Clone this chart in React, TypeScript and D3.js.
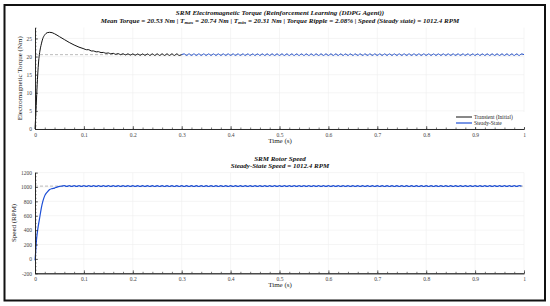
import React, { useEffect, useRef } from 'react';
import * as d3 from 'd3';

const WIDTH = 550;
const HEIGHT = 306;
const SERIF = '"Liberation Serif", "DejaVu Serif", serif';
const BLUE = '#1d4fd6';

// shared time axis
const X_TICKS = [0, 0.1, 0.2, 0.3, 0.4, 0.5, 0.6, 0.7, 0.8, 0.9, 1];
const TORQUE_TICKS = [0, 5, 10, 15, 20, 25];
const SPEED_TICKS = [-200, 0, 200, 400, 600, 800, 1000, 1200];

const TORQUE_MEAN = 20.53;
const SPEED_STEADY = 1012.4;

// torque start-up (transient, black)
const TRANSIENT_T = [0, 0.002, 0.004, 0.006, 0.008, 0.01, 0.013, 0.016, 0.02, 0.025, 0.03, 0.035, 0.04, 0.05, 0.06, 0.07, 0.08, 0.09];
const TRANSIENT_V = [0, 5, 11, 16, 19.5, 21.5, 23.5, 25, 26, 26.6, 26.7, 26.6, 26.3, 25.5, 24.7, 23.9, 23.2, 22.6];

// sampled every STEP seconds
const STEP = 0.005;
const TAIL_START = 0.1;
const TRANSIENT_TAIL = [
  22.15, 21.9, 21.9, 21.55, 21.55, 21.3, 21.35, 21.1, 21.15, 20.9,
  21.0, 20.75, 20.9, 20.62, 20.82, 20.52, 20.78, 20.45, 20.76, 20.4,
  20.75, 20.36, 20.74, 20.34, 20.74, 20.33, 20.74, 20.32, 20.74, 20.32,
  20.74, 20.31, 20.74, 20.31, 20.74, 20.31, 20.74, 20.31, 20.74, 20.31,
  20.53,
];

const STEADY_START = 0.3;
const STEADY_TORQUE = [
  20.53, 20.74, 20.31, 20.74, 20.31, 20.74, 20.31, 20.74, 20.31, 20.74,
  20.31, 20.74, 20.31, 20.74, 20.31, 20.74, 20.31, 20.74, 20.31, 20.74,
  20.31, 20.74, 20.31, 20.74, 20.31, 20.74, 20.31, 20.74, 20.31, 20.74,
  20.31, 20.74, 20.31, 20.74, 20.31, 20.74, 20.31, 20.74, 20.31, 20.74,
  20.31, 20.74, 20.31, 20.74, 20.31, 20.74, 20.31, 20.74, 20.31, 20.74,
  20.31, 20.74, 20.31, 20.74, 20.31, 20.74, 20.31, 20.74, 20.31, 20.74,
  20.31, 20.74, 20.31, 20.74, 20.31, 20.74, 20.31, 20.74, 20.31, 20.74,
  20.31, 20.74, 20.31, 20.74, 20.31, 20.74, 20.31, 20.74, 20.31, 20.74,
  20.31, 20.74, 20.31, 20.74, 20.31, 20.74, 20.31, 20.74, 20.31, 20.74,
  20.31, 20.74, 20.31, 20.74, 20.31, 20.74, 20.31, 20.74, 20.31, 20.74,
  20.31, 20.74, 20.31, 20.74, 20.31, 20.74, 20.31, 20.74, 20.31, 20.74,
  20.31, 20.74, 20.31, 20.74, 20.31, 20.74, 20.31, 20.74, 20.31, 20.74,
  20.31, 20.74, 20.31, 20.74, 20.31, 20.74, 20.31, 20.74, 20.31, 20.74,
  20.31, 20.74, 20.31, 20.74, 20.31, 20.74, 20.31, 20.74, 20.31, 20.74,
  20.53,
];

// rotor speed start-up
const SPEED_T = [0, 0.001, 0.003, 0.005, 0.007, 0.01, 0.013, 0.016, 0.02, 0.025, 0.03, 0.035, 0.04, 0.045, 0.05];
const SPEED_V = [-20, 60, 260, 380, 470, 590, 710, 800, 880, 930, 965, 978, 985, 998, 1008];

const SPEED_RIPPLE_START = 0.055;
const SPEED_RIPPLE = [
  1012, 1018, 1007, 1018, 1007, 1018, 1007, 1018, 1007, 1018,
  1007, 1018, 1007, 1018, 1007, 1018, 1007, 1018, 1007, 1018,
  1007, 1018, 1007, 1018, 1007, 1018, 1007, 1018, 1007, 1018,
  1007, 1018, 1007, 1018, 1007, 1018, 1007, 1018, 1007, 1018,
  1007, 1018, 1007, 1018, 1007, 1018, 1007, 1018, 1007, 1018,
  1007, 1018, 1007, 1018, 1007, 1018, 1007, 1018, 1007, 1018,
  1007, 1018, 1007, 1018, 1007, 1018, 1007, 1018, 1007, 1018,
  1007, 1018, 1007, 1018, 1007, 1018, 1007, 1018, 1007, 1018,
  1007, 1018, 1007, 1018, 1007, 1018, 1007, 1018, 1007, 1018,
  1007, 1018, 1007, 1018, 1007, 1018, 1007, 1018, 1007, 1018,
  1007, 1018, 1007, 1018, 1007, 1018, 1007, 1018, 1007, 1018,
  1007, 1018, 1007, 1018, 1007, 1018, 1007, 1018, 1007, 1018,
  1007, 1018, 1007, 1018, 1007, 1018, 1007, 1018, 1007, 1018,
  1007, 1018, 1007, 1018, 1007, 1018, 1007, 1018, 1007, 1018,
  1007, 1018, 1007, 1018, 1007, 1018, 1007, 1018, 1007, 1018,
  1007, 1018, 1007, 1018, 1007, 1018, 1007, 1018, 1007, 1018,
  1007, 1018, 1007, 1018, 1007, 1018, 1007, 1018, 1007, 1018,
  1007, 1018, 1007, 1018, 1007, 1018, 1007, 1018, 1007, 1018,
  1007, 1018, 1007, 1018, 1007, 1018, 1007, 1018, 1012,
];

const LEGEND = ['Transient (Initial)', 'Steady-State'];

const pairs = (ts: number[], vs: number[]) => vs.map((v, i) => [ts[i], v] as [number, number]);
const stepped = (start: number, vs: number[]) => vs.map((v, i) => [start + i * STEP, v] as [number, number]);

const x = d3.scaleLinear().domain([0, 1]).range([35, 524]);

type Series = { points: [number, number][]; color: string; width: number };

const Panel = ({ yDomain, yRange, yTicks, yMinor, yLabel, series, refValue }: any) => {
  const xAxisRef = useRef<SVGGElement>(null);
  const yAxisRef = useRef<SVGGElement>(null);

  const y = d3.scaleLinear().domain(yDomain).range(yRange);
  const bottom = yRange[0];

  useEffect(() => {
    const minorX = d3.range(0, 1.0001, 0.02);
    const gx = d3.select(xAxisRef.current);
    gx.selectAll('*').remove();
    gx.append('g').call(d3.axisBottom(x).tickValues(minorX).tickSize(-1.5).tickFormat(() => '').tickSizeOuter(0));
    gx.append('g').call(d3.axisBottom(x).tickValues(X_TICKS).tickSize(-3).tickPadding(4).tickSizeOuter(0)
      .tickFormat(d => d3.format('~g')(d as number)));

    const gy = d3.select(yAxisRef.current);
    gy.selectAll('*').remove();
    gy.append('g').call(d3.axisLeft(y).tickValues(d3.range(yDomain[0], yDomain[1] + 0.001, yMinor)).tickSize(-1.5).tickFormat(() => '').tickSizeOuter(0));
    gy.append('g').call(d3.axisLeft(y).tickValues(yTicks).tickSize(-3).tickPadding(3).tickSizeOuter(0)
      .tickFormat(d => String(d)));

    [gx, gy].forEach(g => {
      g.selectAll('text').attr('font-family', SERIF).attr('font-size', 5.5).attr('fill', '#444');
      g.selectAll('.domain').attr('stroke', '#222').attr('stroke-width', 0.8);
      g.selectAll('line').attr('stroke', '#222').attr('stroke-width', 0.6);
    });
  }, []);

  const line = d3.line<[number, number]>().x(d => x(d[0])).y(d => y(d[1])).curve(d3.curveMonotoneX);

  return (
    <g>
      {X_TICKS.slice(1).map(t => (
        <line key={'gx' + t} x1={x(t)} x2={x(t)} y1={yRange[1]} y2={bottom} stroke="#efefef" strokeWidth={0.6} />
      ))}
      {yTicks.map((t: number) => (
        <line key={'gy' + t} x1={x(0)} x2={x(1)} y1={y(t)} y2={y(t)} stroke="#efefef" strokeWidth={0.6} />
      ))}
      <line x1={x(0)} x2={x(1)} y1={y(refValue)} y2={y(refValue)} stroke="#aaa" strokeWidth={0.8} strokeDasharray="3,2" />
      {series.map((s: Series, i: number) => (
        <path key={i} d={line(s.points) || ''} fill="none" stroke={s.color} strokeWidth={s.width} />
      ))}
      <g ref={xAxisRef} transform={`translate(0,${bottom})`} />
      <g ref={yAxisRef} transform={`translate(${x(0)},0)`} />
      <text x={280} y={bottom + 13.5} textAnchor="middle" fontFamily={SERIF} fontSize={7} fill="#222">Time (s)</text>
      <text transform={`translate(${yLabel.x},${(yRange[0] + yRange[1]) / 2}) rotate(-90)`} textAnchor="middle"
        fontFamily={SERIF} fontSize={7} fill="#222">{yLabel.text}</text>
    </g>
  );
};

export default function App() {
  const torqueSeries: Series[] = [
    { points: [...pairs(TRANSIENT_T, TRANSIENT_V), ...stepped(TAIL_START, TRANSIENT_TAIL)], color: '#111', width: 1 },
    { points: stepped(STEADY_START, STEADY_TORQUE), color: BLUE, width: 1 },
  ];
  const speedSeries: Series[] = [
    { points: [...pairs(SPEED_T, SPEED_V), ...stepped(SPEED_RIPPLE_START, SPEED_RIPPLE)], color: BLUE, width: 1.2 },
  ];
  const titleStyle = { fontFamily: SERIF, fontSize: 7, fontWeight: 'bold' as const, fontStyle: 'italic' as const, fill: '#111' };

  return (
    <svg width={WIDTH} height={HEIGHT} style={{ position: 'absolute', left: 0, top: 0, background: '#fff' }}>
      <rect x={0} y={0} width={WIDTH} height={HEIGHT} fill="#fff" />
      <rect x={4.5} y={5} width={540.5} height={295.5} fill="none" stroke="#111" strokeWidth={2} />

      <text x={280} y={15} textAnchor="middle" {...titleStyle}>SRM Electromagnetic Torque (Reinforcement Learning (DDPG Agent))</text>
      <text x={280} y={22.5} textAnchor="middle" {...titleStyle}>
        Mean Torque = 20.53 Nm  |  T<tspan dy={1.8} fontSize={5}>max</tspan><tspan dy={-1.8}> = 20.74 Nm  |  T</tspan>
        <tspan dy={1.8} fontSize={5}>min</tspan><tspan dy={-1.8}> = 20.31 Nm  |  Torque Ripple = 2.08%  |  Speed (Steady state) = 1012.4 RPM</tspan>
      </text>
      <Panel yDomain={[0, 28]} yRange={[129, 27.6]} yTicks={TORQUE_TICKS} yMinor={1}
        yLabel={{ x: 21.5, text: 'Electromagnetic Torque (Nm)' }} series={torqueSeries} refValue={TORQUE_MEAN} />

      <g>
        <rect x={452} y={112} width={74} height={15} fill="#fff" />
        <line x1={456} x2={472} y1={117} y2={117} stroke="#111" strokeWidth={1} />
        <line x1={456} x2={472} y1={123} y2={123} stroke={BLUE} strokeWidth={1.2} />
        <text x={474} y={119} fontFamily={SERIF} fontSize={5.5} fill="#222">{LEGEND[0]}</text>
        <text x={474} y={125} fontFamily={SERIF} fontSize={5.5} fill="#222">{LEGEND[1]}</text>
      </g>

      <text x={280} y={161} textAnchor="middle" {...titleStyle}>SRM Rotor Speed</text>
      <text x={280} y={168} textAnchor="middle" {...titleStyle}>Steady-State Speed = 1012.4 RPM</text>
      <Panel yDomain={[-200, 1200]} yRange={[273.3, 172.6]} yTicks={SPEED_TICKS} yMinor={50}
        yLabel={{ x: 16, text: 'Speed (RPM)' }} series={speedSeries} refValue={SPEED_STEADY} />
    </svg>
  );
}
